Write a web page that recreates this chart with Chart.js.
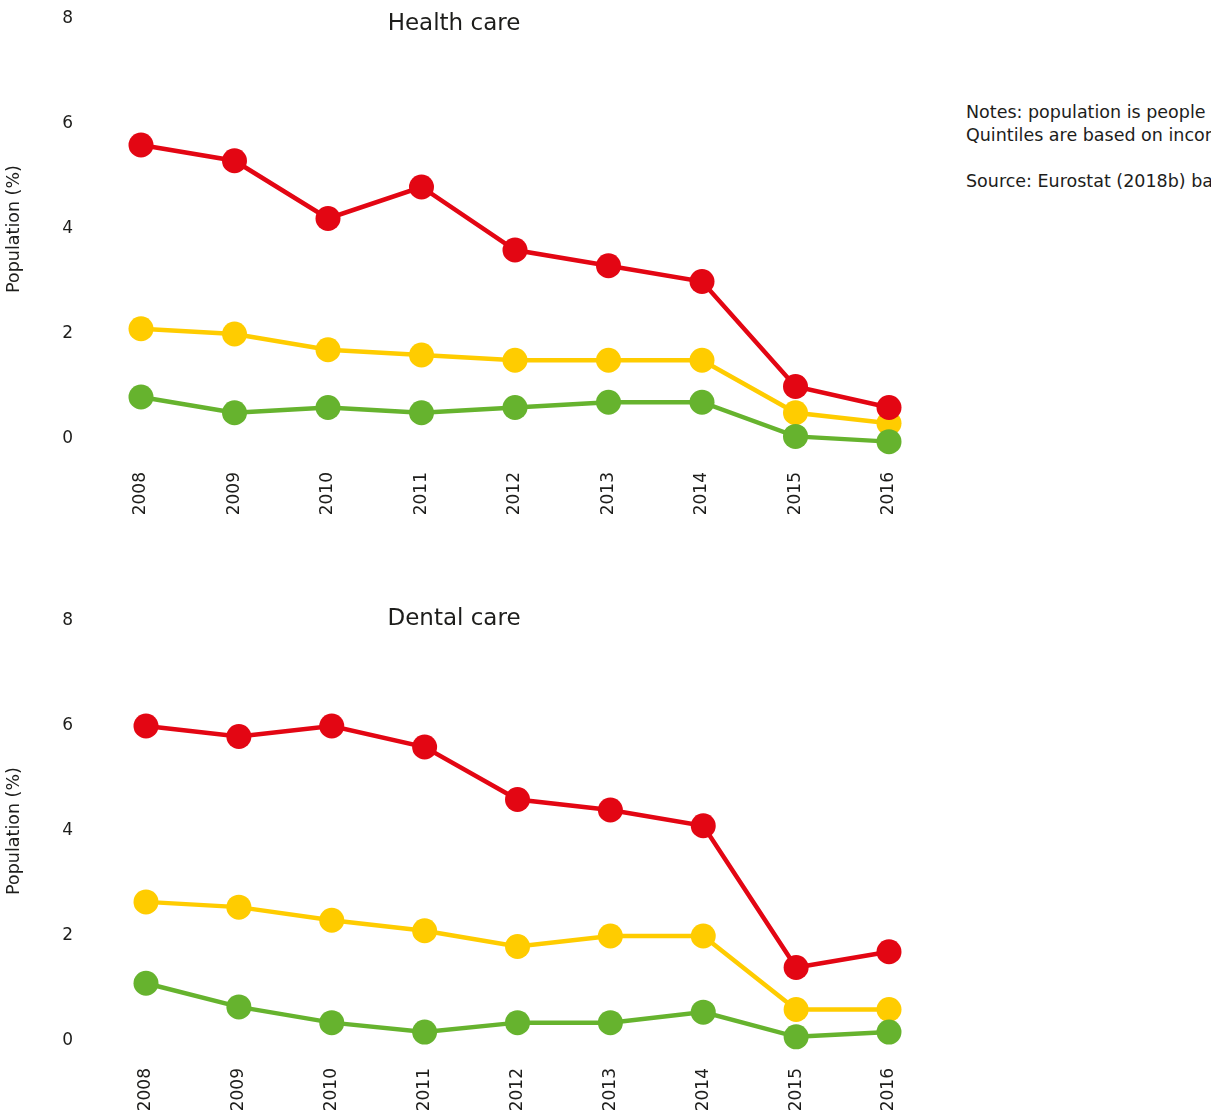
<!DOCTYPE html>
<html>
<head>
<meta charset="utf-8">
<script src="https://cdn.jsdelivr.net/npm/chart.js@4.4.1/dist/chart.umd.min.js"></script>
<style>
html,body{margin:0;padding:0;background:#fff;width:1211px;height:1115px;overflow:hidden;font-family:'DejaVu Sans',sans-serif;color:#1d1d1b}
.box{position:absolute}
.ttl{position:absolute;left:0;width:908px;text-align:center;font-size:23px;line-height:26px}
.notes{position:absolute;left:966px;top:101px;font-size:17.5px;line-height:23px;white-space:nowrap}
</style>
</head>
<body>
<div class="box" style="left:0;top:0;width:920px;height:540px"><canvas id="health"></canvas></div>
<div class="box" style="left:0;top:600px;width:920px;height:515px"><canvas id="dental"></canvas></div>
<div class="ttl" style="top:9px">Health care</div>
<div class="ttl" style="top:604px">Dental care</div>
<div class="notes">Notes: population is people aged 16 and over.<br>Quintiles are based on income.<br><br>Source: Eurostat (2018b) based on EU-SILC.</div>
<script>
const C_RED = '#E30613';
const C_YEL = '#FFCC00';
const C_GRN = '#66B32E';

const years = ['2008','2009','2010','2011','2012','2013','2014','2015','2016'];
const yTicks = [0, 2, 4, 6, 8];

// Health care
const healthRed   = [5.6, 5.3, 4.2, 4.8, 3.6, 3.3, 3.0, 1.0, 0.6];
const healthYel   = [2.1, 2.0, 1.7, 1.6, 1.5, 1.5, 1.5, 0.5, 0.3];
const healthGrn   = [0.8, 0.5, 0.6, 0.5, 0.6, 0.7, 0.7, 0.05, -0.05];

// Dental care
const dentalRed   = [6.0, 5.8, 6.0, 5.6, 4.6, 4.4, 4.1, 1.4, 1.7];
const dentalYel   = [2.65, 2.55, 2.3, 2.1, 1.8, 2.0, 2.0, 0.6, 0.6];
const dentalGrn   = [1.1, 0.65, 0.35, 0.17, 0.35, 0.35, 0.55, 0.08, 0.17];

const font = {family:"'DejaVu Sans', sans-serif", size:17};

function ds(data, color, order){
  return {data, borderColor:color, backgroundColor:color, pointBackgroundColor:color,
    pointBorderWidth:0, pointRadius:12.5, pointHoverRadius:12.5, borderWidth:4.5,
    tension:0, clip:false, order};
}

function panel(id, red, yel, grn, g){
  const el = document.getElementById(id);
  new Chart(el, {
    type:'line',
    data:{labels:years, datasets:[ds(red,C_RED,1), ds(grn,C_GRN,2), ds(yel,C_YEL,3)]},
    options:{
      responsive:true, maintainAspectRatio:false, animation:false,
      layout:{padding:{left:0, right:g.right, top:g.top, bottom:0}},
      plugins:{legend:{display:false}, tooltip:{enabled:false}},
      scales:{
        y:{min:0, max:8, afterBuildTicks:s=>{s.ticks = yTicks.map(v=>({value:v}));},
          grid:{display:false, drawTicks:false}, border:{display:false},
          ticks:{color:'#1d1d1b', font, padding:g.yPad},
          title:{display:true, text:'Population (%)', color:'#1d1d1b', font:{...font, size:17.5}, padding:{top:4, bottom:0}},
          afterFit:s=>{s.width = g.yW; s.paddingTop = 0; s.paddingBottom = 0;}},
        x:{offset:false, grid:{display:false, drawTicks:false}, border:{display:false},
          ticks:{color:'#1d1d1b', font, padding:g.xPad, minRotation:90, maxRotation:90, autoSkip:false},
          afterFit:s=>{s.height = g.xH; s.paddingLeft = 0; s.paddingRight = 0;}}
      }
    }
  });
}

panel('health', healthRed, healthYel, healthGrn, {right:31, top:19, yW:141, yPad:68, xH:101, xPad:33});
panel('dental', dentalRed, dentalYel, dentalGrn, {right:31, top:21, yW:146, yPad:73, xH:74, xPad:27});
</script>
</body>
</html>
